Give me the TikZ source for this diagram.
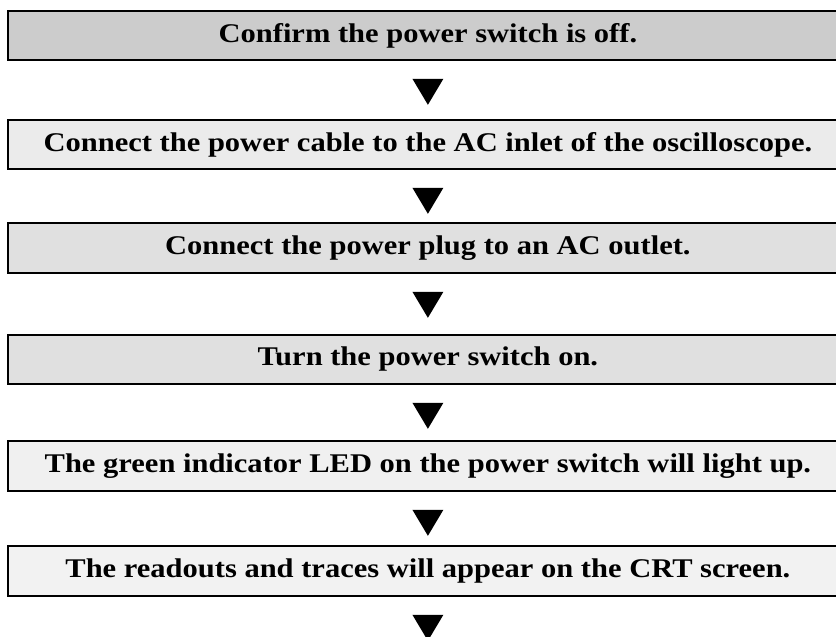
\documentclass[tikz,border=0pt]{standalone}
\usepackage{fontspec}
\usepackage{graphicx}
\setmainfont{Liberation Serif}
\tikzset{
  stepbox/.style={draw=black, line width=1.8pt, rectangle, anchor=north west,
    minimum width=840pt, minimum height=49pt, inner sep=0pt,
    font=\bfseries\fontsize{27}{31}\selectfont},
  tri/.style={fill=black}
}
\newcommand{\wtxt}[1]{\scalebox{1.13}[1]{#1}}
\begin{document}
\begin{tikzpicture}[x=1pt,y=-1pt]
\useasboundingbox (0,0) rectangle (836,637);
\fill[white] (0,0) rectangle (836,637);
\begin{scope}
\clip (0,0) rectangle (836,637);
\node[stepbox, fill=black!20] (b1) at (7,10)  {\wtxt{Confirm the power switch is off.}};
\node[stepbox, fill=black!8]  (b2) at (7,119) {\wtxt{Connect the power cable to the AC inlet of the oscilloscope.}};
\node[stepbox, fill=black!12, minimum height=50pt] (b3) at (7,222) {\wtxt{Connect the power plug to an AC outlet.}};
\node[stepbox, fill=black!12] (b4) at (7,334) {\wtxt{Turn the power switch on.}};
\node[stepbox, fill=black!6, minimum height=50pt] (b5) at (7,440) {\wtxt{The green indicator LED on the power switch will light up.}};
\node[stepbox, fill=black!5, minimum height=50pt] (b6) at (7,545) {\wtxt{The readouts and traces will appear on the CRT screen.}};
\foreach \b in {b1,b2,b3,b4,b5,b6}{
  \fill[tri] ([yshift=-18pt]\b.south) ++(-15.5pt,0) -- ++(31pt,0) -- ++(-15.5pt,-26pt) -- cycle;
}
\end{scope}
\end{tikzpicture}
\end{document}
